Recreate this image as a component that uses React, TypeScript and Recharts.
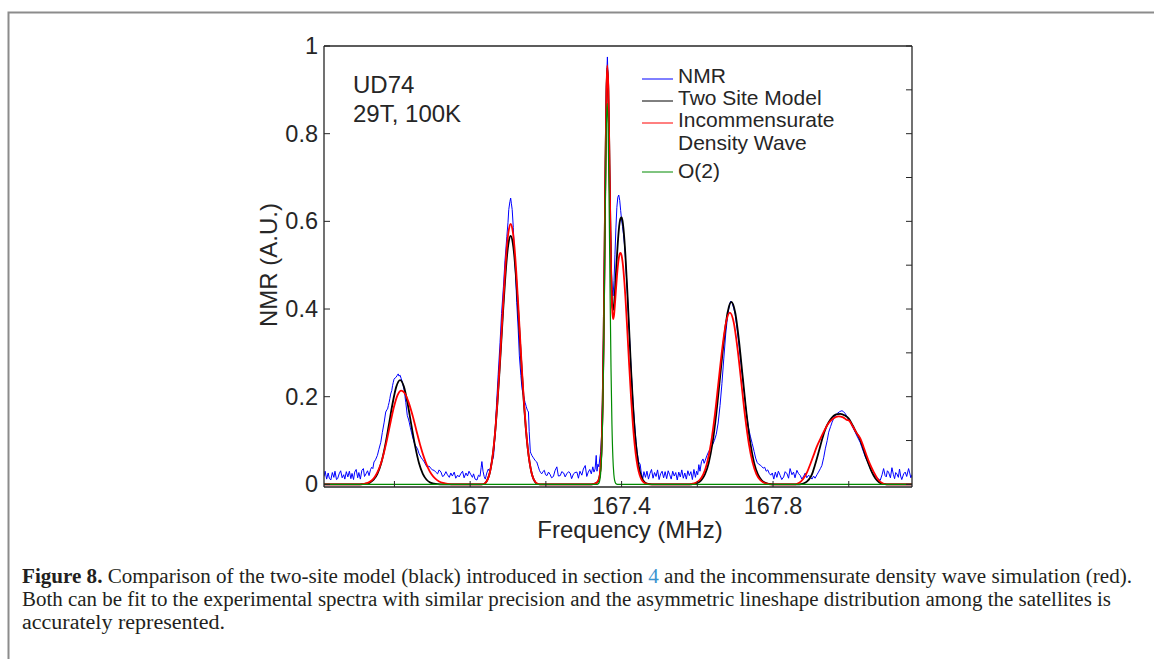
import React from 'react';
import { LineChart, Line, XAxis, YAxis } from 'recharts';

// [frequency (MHz), normalised intensity]
type Pair = [number, number];

const nmrTrace: Pair[] = [
  [166.614, 0.018], [166.617, 0.03], [166.621, 0.012], [166.625, 0.026], [166.628, 0.014], [166.632, 0.01],
  [166.636, 0.027], [166.64, 0.016], [166.643, 0.03], [166.647, 0.011], [166.65, 0.013], [166.654, 0.024],
  [166.658, 0.031], [166.662, 0.015], [166.666, 0.022], [166.669, 0.012], [166.673, 0.029], [166.677, 0.017],
  [166.681, 0.03], [166.685, 0.013], [166.688, 0.025], [166.692, 0.011], [166.695, 0.028], [166.699, 0.034],
  [166.703, 0.015], [166.706, 0.027], [166.71, 0.012], [166.714, 0.032], [166.718, 0.036], [166.721, 0.018],
  [166.725, 0.024], [166.729, 0.031], [166.733, 0.02], [166.737, 0.034], [166.74, 0.039], [166.743, 0.036],
  [166.746, 0.051], [166.75, 0.056], [166.755, 0.066], [166.759, 0.08], [166.764, 0.096], [166.768, 0.118],
  [166.773, 0.142], [166.777, 0.165], [166.78, 0.17], [166.782, 0.172], [166.784, 0.18], [166.786, 0.187],
  [166.788, 0.196], [166.79, 0.206], [166.793, 0.214], [166.795, 0.225], [166.797, 0.233], [166.799, 0.24],
  [166.802, 0.243], [166.804, 0.244], [166.807, 0.248], [166.81, 0.252], [166.812, 0.247], [166.815, 0.249],
  [166.818, 0.241], [166.821, 0.233], [166.824, 0.222], [166.826, 0.214], [166.828, 0.2], [166.83, 0.187],
  [166.832, 0.172], [166.834, 0.157], [166.837, 0.149], [166.839, 0.142], [166.842, 0.13], [166.845, 0.119],
  [166.848, 0.108], [166.852, 0.096], [166.856, 0.088], [166.861, 0.081], [166.865, 0.07], [166.87, 0.062],
  [166.874, 0.057], [166.879, 0.051], [166.883, 0.044], [166.887, 0.039], [166.891, 0.042], [166.896, 0.037],
  [166.9, 0.033], [166.905, 0.032], [166.909, 0.028], [166.914, 0.024], [166.918, 0.033], [166.923, 0.028],
  [166.927, 0.018], [166.931, 0.02], [166.936, 0.029], [166.94, 0.022], [166.945, 0.016], [166.949, 0.026],
  [166.953, 0.019], [166.958, 0.028], [166.962, 0.014], [166.967, 0.021], [166.971, 0.017], [166.975, 0.024],
  [166.98, 0.03], [166.984, 0.015], [166.989, 0.026], [166.993, 0.019], [166.997, 0.03], [167.002, 0.022],
  [167.006, 0.016], [167.009, 0.024], [167.013, 0.012], [167.018, 0.01], [167.022, 0.021], [167.026, 0.018],
  [167.029, 0.038], [167.031, 0.052], [167.034, 0.03], [167.037, 0.018], [167.04, 0.012], [167.044, 0.026],
  [167.048, 0.035], [167.052, 0.028], [167.055, 0.044], [167.057, 0.05], [167.06, 0.058], [167.062, 0.066],
  [167.066, 0.118], [167.07, 0.187], [167.074, 0.25], [167.079, 0.324], [167.083, 0.39], [167.088, 0.452],
  [167.092, 0.51], [167.097, 0.566], [167.1, 0.598], [167.102, 0.627], [167.105, 0.645], [167.107, 0.653],
  [167.109, 0.64], [167.111, 0.627], [167.114, 0.586], [167.116, 0.543], [167.12, 0.478], [167.123, 0.415],
  [167.127, 0.352], [167.13, 0.293], [167.134, 0.248], [167.137, 0.218], [167.139, 0.21], [167.141, 0.202],
  [167.143, 0.194], [167.145, 0.187], [167.148, 0.178], [167.15, 0.172], [167.152, 0.168], [167.154, 0.165],
  [167.156, 0.12], [167.159, 0.074], [167.161, 0.07], [167.163, 0.066], [167.166, 0.062], [167.169, 0.058],
  [167.172, 0.054], [167.176, 0.051], [167.18, 0.04], [167.183, 0.032], [167.186, 0.027], [167.189, 0.024],
  [167.192, 0.029], [167.196, 0.032], [167.199, 0.022], [167.203, 0.02], [167.207, 0.028], [167.211, 0.023],
  [167.215, 0.015], [167.22, 0.018], [167.224, 0.031], [167.229, 0.04], [167.233, 0.019], [167.238, 0.02],
  [167.242, 0.029], [167.247, 0.026], [167.251, 0.017], [167.255, 0.024], [167.26, 0.029], [167.264, 0.026],
  [167.268, 0.013], [167.273, 0.024], [167.277, 0.027], [167.282, 0.028], [167.286, 0.014], [167.29, 0.03],
  [167.295, 0.021], [167.299, 0.035], [167.304, 0.043], [167.308, 0.018], [167.312, 0.028], [167.316, 0.034],
  [167.32, 0.024], [167.324, 0.04], [167.327, 0.028], [167.33, 0.035], [167.333, 0.066], [167.335, 0.03],
  [167.3375, 0.046], [167.34, 0.04], [167.3425, 0.06], [167.345, 0.075], [167.3475, 0.118], [167.35, 0.205],
  [167.3525, 0.355], [167.355, 0.545], [167.3575, 0.755], [167.36, 0.915], [167.3625, 0.975], [167.365, 0.905],
  [167.3675, 0.765], [167.37, 0.61], [167.3725, 0.5], [167.375, 0.445], [167.3775, 0.43], [167.38, 0.465],
  [167.3825, 0.525], [167.385, 0.585], [167.3875, 0.632], [167.39, 0.655], [167.3925, 0.66], [167.395, 0.648],
  [167.3975, 0.625], [167.4, 0.603], [167.4025, 0.588], [167.405, 0.57], [167.4075, 0.548], [167.41, 0.518],
  [167.415, 0.44], [167.42, 0.352], [167.425, 0.265], [167.43, 0.188], [167.435, 0.13], [167.438, 0.098],
  [167.441, 0.074], [167.445, 0.051], [167.449, 0.046], [167.452, 0.026], [167.456, 0.013], [167.459, 0.029],
  [167.463, 0.016], [167.467, 0.03], [167.471, 0.012], [167.475, 0.025], [167.479, 0.034], [167.483, 0.014],
  [167.487, 0.027], [167.491, 0.018], [167.495, 0.033], [167.499, 0.011], [167.503, 0.024], [167.507, 0.03],
  [167.511, 0.015], [167.515, 0.029], [167.519, 0.013], [167.523, 0.031], [167.527, 0.022], [167.531, 0.012],
  [167.535, 0.03], [167.539, 0.019], [167.543, 0.027], [167.547, 0.01], [167.551, 0.028], [167.555, 0.017],
  [167.559, 0.033], [167.563, 0.014], [167.567, 0.026], [167.571, 0.012], [167.575, 0.031], [167.579, 0.02],
  [167.583, 0.029], [167.587, 0.011], [167.591, 0.034], [167.595, 0.016], [167.598, 0.03], [167.601, 0.022],
  [167.604, 0.045], [167.607, 0.03], [167.611, 0.052], [167.615, 0.058], [167.618, 0.048], [167.621, 0.055],
  [167.625, 0.065], [167.63, 0.075], [167.635, 0.082], [167.64, 0.09], [167.645, 0.1], [167.65, 0.114],
  [167.655, 0.14], [167.66, 0.18], [167.665, 0.23], [167.67, 0.288], [167.675, 0.343], [167.68, 0.385],
  [167.685, 0.41], [167.688, 0.418], [167.692, 0.414], [167.696, 0.402], [167.7, 0.388], [167.705, 0.355],
  [167.71, 0.318], [167.715, 0.278], [167.72, 0.238], [167.725, 0.198], [167.73, 0.16], [167.735, 0.13],
  [167.74, 0.11], [167.745, 0.093], [167.75, 0.075], [167.754, 0.06], [167.758, 0.05], [167.762, 0.046],
  [167.766, 0.044], [167.77, 0.041], [167.774, 0.037], [167.778, 0.039], [167.782, 0.03], [167.786, 0.033],
  [167.79, 0.025], [167.794, 0.021], [167.798, 0.026], [167.802, 0.012], [167.806, 0.028], [167.81, 0.016],
  [167.814, 0.03], [167.819, 0.02], [167.823, 0.011], [167.828, 0.017], [167.832, 0.029], [167.837, 0.024],
  [167.841, 0.014], [167.845, 0.036], [167.85, 0.022], [167.854, 0.028], [167.858, 0.015], [167.863, 0.032],
  [167.867, 0.025], [167.872, 0.02], [167.876, 0.012], [167.881, 0.019], [167.885, 0.026], [167.889, 0.015],
  [167.894, 0.021], [167.898, 0.017], [167.903, 0.012], [167.907, 0.019], [167.911, 0.014], [167.916, 0.022],
  [167.92, 0.028], [167.925, 0.036], [167.929, 0.043], [167.934, 0.062], [167.938, 0.081], [167.943, 0.1],
  [167.947, 0.119], [167.952, 0.132], [167.956, 0.142], [167.96, 0.15], [167.964, 0.157], [167.97, 0.162],
  [167.976, 0.166], [167.982, 0.168], [167.986, 0.166], [167.991, 0.161], [167.997, 0.152], [168.004, 0.142],
  [168.01, 0.131], [168.017, 0.119], [168.023, 0.108], [168.03, 0.096], [168.034, 0.086], [168.039, 0.074],
  [168.044, 0.062], [168.05, 0.051], [168.055, 0.04], [168.061, 0.028], [168.067, 0.021], [168.074, 0.015],
  [168.079, 0.012], [168.083, 0.009], [168.088, 0.022], [168.092, 0.036], [168.096, 0.02], [168.099, 0.017],
  [168.102, 0.031], [168.105, 0.028], [168.11, 0.015], [168.114, 0.038], [168.118, 0.022], [168.121, 0.013],
  [168.124, 0.027], [168.127, 0.024], [168.131, 0.016], [168.134, 0.035], [168.137, 0.019], [168.14, 0.011],
  [168.145, 0.024], [168.149, 0.028], [168.153, 0.018], [168.158, 0.036], [168.161, 0.026], [168.164, 0.015],
  [168.167, 0.022],
];

const twoSiteModel: Pair[] = [
  [166.614, 0], [166.705, 0], [166.715, 0.0005], [166.725, 0.0014], [166.735, 0.004], [166.745, 0.0105],
  [166.755, 0.024], [166.765, 0.048], [166.775, 0.086], [166.785, 0.134], [166.795, 0.184], [166.805, 0.223],
  [166.815, 0.238], [166.825, 0.223], [166.835, 0.184], [166.845, 0.134], [166.855, 0.086], [166.865, 0.048],
  [166.875, 0.024], [166.885, 0.0105], [166.895, 0.004], [166.905, 0.0014], [166.915, 0.0004], [166.925, 0],
  [167.03, 0], [167.037, 0.0015], [167.042, 0.005], [167.047, 0.013], [167.052, 0.027], [167.057, 0.05],
  [167.062, 0.083], [167.067, 0.128], [167.072, 0.185], [167.077, 0.251], [167.082, 0.322], [167.087, 0.395],
  [167.092, 0.462], [167.097, 0.518], [167.102, 0.554], [167.107, 0.567], [167.112, 0.554], [167.117, 0.518],
  [167.122, 0.462], [167.127, 0.395], [167.132, 0.322], [167.137, 0.251], [167.142, 0.185], [167.147, 0.128],
  [167.152, 0.083], [167.157, 0.05], [167.162, 0.027], [167.167, 0.013], [167.172, 0.005], [167.177, 0.0015],
  [167.184, 0], [167.32, 0], [167.33, 0.002], [167.335, 0.004], [167.34, 0.011], [167.3425, 0.021],
  [167.345, 0.043], [167.3475, 0.092], [167.35, 0.183], [167.3525, 0.33], [167.355, 0.524], [167.3575, 0.732],
  [167.36, 0.892], [167.362, 0.95], [167.365, 0.899], [167.3675, 0.763], [167.37, 0.607], [167.3725, 0.482],
  [167.375, 0.411], [167.3775, 0.398], [167.38, 0.41], [167.3825, 0.44], [167.385, 0.479], [167.3875, 0.517],
  [167.39, 0.551], [167.3925, 0.579], [167.395, 0.598], [167.3975, 0.607], [167.4, 0.609], [167.4025, 0.601],
  [167.405, 0.583], [167.4075, 0.557], [167.41, 0.524], [167.415, 0.443], [167.42, 0.352], [167.425, 0.261],
  [167.43, 0.183], [167.435, 0.12], [167.44, 0.0747], [167.445, 0.0433], [167.45, 0.0236], [167.455, 0.0121],
  [167.46, 0.0058], [167.465, 0.0025], [167.47, 0.001], [167.48, 0],
  [167.58, 0], [167.59, 0.0011], [167.6, 0.0034], [167.61, 0.0093], [167.62, 0.0226], [167.63, 0.0489],
  [167.64, 0.094], [167.65, 0.161], [167.66, 0.244], [167.67, 0.328], [167.68, 0.392], [167.69, 0.416],
  [167.7, 0.392], [167.71, 0.328], [167.72, 0.244], [167.73, 0.161], [167.74, 0.094], [167.75, 0.0489],
  [167.76, 0.0226], [167.77, 0.0093], [167.78, 0.0034], [167.79, 0.0011], [167.8, 0],
  [167.87, 0], [167.88, 0.002], [167.89, 0.007], [167.9, 0.018], [167.905, 0.028], [167.91, 0.042],
  [167.918, 0.066], [167.925, 0.088], [167.93, 0.104], [167.94, 0.13], [167.947, 0.142], [167.955, 0.152],
  [167.965, 0.159], [167.978, 0.161], [167.99, 0.157], [168.0, 0.15], [168.01, 0.135], [168.02, 0.118],
  [168.029, 0.104], [168.037, 0.085], [168.044, 0.066], [168.052, 0.047], [168.061, 0.028], [168.07, 0.014],
  [168.08, 0.005], [168.09, 0.001], [168.1, 0], [168.167, 0],
];

const densityWaveModel: Pair[] = [
  [166.614, 0], [166.71, 0], [166.718, 0.001], [166.728, 0.003], [166.738, 0.0077], [166.748, 0.017],
  [166.758, 0.033], [166.768, 0.058], [166.778, 0.093], [166.788, 0.134], [166.798, 0.174], [166.808, 0.203],
  [166.818, 0.214], [166.828, 0.207], [166.838, 0.186], [166.848, 0.157], [166.858, 0.123], [166.868, 0.09],
  [166.878, 0.0615], [166.888, 0.039], [166.898, 0.023], [166.908, 0.013], [166.918, 0.0067], [166.928, 0.0032],
  [166.938, 0.0014], [166.95, 0],
  [167.03, 0], [167.037, 0.0015], [167.042, 0.005], [167.047, 0.013], [167.052, 0.027], [167.057, 0.05],
  [167.062, 0.084], [167.067, 0.13], [167.072, 0.189], [167.077, 0.258], [167.082, 0.333], [167.087, 0.41],
  [167.092, 0.482], [167.097, 0.542], [167.102, 0.58], [167.107, 0.594], [167.112, 0.58], [167.117, 0.542],
  [167.122, 0.482], [167.127, 0.41], [167.132, 0.333], [167.137, 0.258], [167.142, 0.189], [167.147, 0.13],
  [167.152, 0.084], [167.157, 0.05], [167.162, 0.027], [167.167, 0.013], [167.172, 0.006], [167.177, 0.002],
  [167.185, 0], [167.32, 0], [167.33, 0.002], [167.335, 0.0045], [167.34, 0.012], [167.3425, 0.022],
  [167.345, 0.046], [167.3475, 0.0945], [167.35, 0.187], [167.3525, 0.334], [167.355, 0.529], [167.3575, 0.738],
  [167.36, 0.898], [167.362, 0.956], [167.365, 0.904], [167.3675, 0.766], [167.37, 0.607], [167.3725, 0.477],
  [167.375, 0.402], [167.3775, 0.377], [167.38, 0.386], [167.3825, 0.412], [167.385, 0.443], [167.3875, 0.472],
  [167.39, 0.497], [167.3925, 0.515], [167.395, 0.526], [167.3975, 0.528], [167.4, 0.522], [167.4025, 0.508],
  [167.405, 0.487], [167.4075, 0.46], [167.41, 0.428], [167.415, 0.352], [167.42, 0.272], [167.425, 0.198],
  [167.43, 0.135], [167.435, 0.0867], [167.44, 0.0523], [167.445, 0.0296], [167.45, 0.0158], [167.455, 0.0079],
  [167.46, 0.0037], [167.465, 0.0016], [167.47, 0.0006], [167.48, 0],
  [167.575, 0], [167.586, 0.0012], [167.596, 0.0037], [167.606, 0.0099], [167.616, 0.0234], [167.626, 0.0496],
  [167.636, 0.0932], [167.646, 0.156], [167.656, 0.234], [167.666, 0.311], [167.676, 0.37], [167.686, 0.392],
  [167.696, 0.37], [167.706, 0.311], [167.716, 0.234], [167.726, 0.156], [167.736, 0.0932], [167.746, 0.0496],
  [167.756, 0.0234], [167.766, 0.0099], [167.776, 0.0037], [167.786, 0.0012], [167.796, 0],
  [167.86, 0], [167.868, 0.003], [167.88, 0.013], [167.89, 0.028], [167.9, 0.05], [167.907, 0.066],
  [167.915, 0.085], [167.925, 0.104], [167.935, 0.122], [167.947, 0.14], [167.96, 0.151], [167.973, 0.155],
  [167.985, 0.153], [167.995, 0.147], [168.0, 0.146], [168.01, 0.133], [168.02, 0.118], [168.031, 0.104],
  [168.04, 0.083], [168.047, 0.066], [168.056, 0.046], [168.066, 0.028], [168.076, 0.013], [168.088, 0.003],
  [168.1, 0], [168.167, 0],
];

const o2Line: Pair[] = [
  [166.614, 0], [167.33, 0], [167.3345, 0], [167.337, 0.0006], [167.3395, 0.0022], [167.342, 0.0077],
  [167.3445, 0.0232], [167.347, 0.0606], [167.3495, 0.137], [167.352, 0.266], [167.3545, 0.447], [167.357, 0.646],
  [167.3595, 0.807], [167.362, 0.869], [167.3645, 0.807], [167.367, 0.646], [167.3695, 0.447], [167.372, 0.266],
  [167.3745, 0.137], [167.377, 0.0606], [167.3795, 0.0232], [167.382, 0.0077], [167.3845, 0.0022], [167.387, 0.0006],
  [167.3895, 0], [168.167, 0],
];

const freqDomain: [number, number] = [166.614, 168.167];
const nmrDomain: [number, number] = [-0.006, 1];
const freqTicks = [166.8, 167, 167.2, 167.4, 167.6, 167.8, 168];
const freqLabels = [167, 167.4, 167.8];
const nmrTicks = [0, 0.2, 0.4, 0.6, 0.8, 1];
const nmrMinorTicks = [0, 0.1, 0.2, 0.3, 0.4, 0.5, 0.6, 0.7, 0.8, 0.9, 1];

const SERIES = [
  { key: 'nmr', legend: ['NMR'], color: '#0000ff', width: 1, curve: 'linear', data: nmrTrace },
  { key: 'twoSite', legend: ['Two Site Model'], color: '#000000', width: 1.8, curve: 'monotone', data: twoSiteModel },
  { key: 'icdw', legend: ['Incommensurate', 'Density Wave'], color: '#ff0000', width: 1.8, curve: 'monotone', data: densityWaveModel },
  { key: 'o2', legend: ['O(2)'], color: '#008a00', width: 1.2, curve: 'monotone', data: o2Line },
] as const;

const SANS = "'Liberation Sans', Arial, sans-serif";
const SERIF = "'Liberation Serif', 'Times New Roman', serif";
const AXIS = '#262626';

const toPoints = (pairs: readonly Pair[]) => pairs.map(([f, v]) => ({ f, v }));

const BlankTick = () => <g />;

const FreqTick = ({ x, y, payload }: any) =>
  freqLabels.includes(payload.value) ? (
    <text x={x} y={y + 33} textAnchor="middle" fontFamily={SANS} fontSize={23.5} fill={AXIS}>
      {payload.value}
    </text>
  ) : (
    <g />
  );

const NmrTick = ({ x, y, payload }: any) => (
  <text x={x - 12} y={y + 8} textAnchor="end" fontFamily={SANS} fontSize={23.5} fill={AXIS}>
    {payload.value}
  </text>
);

const axisLine = { stroke: AXIS, strokeWidth: 1.3 };
const tickLine = { stroke: AXIS, strokeWidth: 1 };

// legend rows: line y, text baselines
const legendRows = [
  { lineY: 79, textY: [83] },
  { lineY: 101, textY: [105] },
  { lineY: 123, textY: [127, 150] },
  { lineY: 172, textY: [178] },
];

export default function App() {
  return (
    <div style={{ position: 'absolute', left: 0, top: 0, width: 1154, height: 659, background: '#fff' }}>
      <LineChart width={1154} height={659} margin={{ top: 45, right: 241, bottom: 112, left: 254 }}>
        <XAxis
          dataKey="f"
          type="number"
          domain={freqDomain}
          allowDataOverflow
          ticks={freqTicks}
          interval={0}
          height={60}
          tickSize={-6}
          tickMargin={0}
          axisLine={axisLine}
          tickLine={tickLine}
          tick={FreqTick}
        />
        <XAxis
          xAxisId="top"
          orientation="top"
          type="number"
          domain={freqDomain}
          allowDataOverflow
          ticks={freqTicks}
          interval={0}
          height={1}
          tickSize={-6}
          axisLine={axisLine}
          tickLine={tickLine}
          tick={BlankTick}
        />
        <YAxis
          type="number"
          domain={nmrDomain}
          allowDataOverflow
          ticks={nmrTicks}
          interval={0}
          width={70}
          tickSize={-6}
          tickMargin={0}
          axisLine={axisLine}
          tickLine={tickLine}
          tick={NmrTick}
        />
        <YAxis
          yAxisId="right"
          orientation="right"
          type="number"
          domain={nmrDomain}
          allowDataOverflow
          ticks={nmrMinorTicks}
          interval={0}
          width={1}
          tickSize={-6}
          axisLine={axisLine}
          tickLine={tickLine}
          tick={BlankTick}
        />
        {SERIES.map(s => (
          <Line
            key={s.key}
            data={toPoints(s.data)}
            dataKey="v"
            type={s.curve}
            stroke={s.color}
            strokeWidth={s.width}
            dot={false}
            activeDot={false}
            isAnimationActive={false}
          />
        ))}
      </LineChart>

      <svg
        width={1154}
        height={659}
        style={{ position: 'absolute', left: 0, top: 0, pointerEvents: 'none' }}
      >
        {/* page frame */}
        <path d="M8.5 659 V12.5 H1154" fill="none" stroke="#8c8c8c" strokeWidth={2} />

        {/* sample annotation */}
        <text x={353} y={93} fontFamily={SANS} fontSize={24} fill={AXIS}>UD74</text>
        <text x={353} y={122} fontFamily={SANS} fontSize={24} fill={AXIS}>29T, 100K</text>

        {/* legend */}
        {SERIES.map((s, i) => (
          <g key={s.key}>
            <line x1={642} x2={673} y1={legendRows[i].lineY} y2={legendRows[i].lineY} stroke={s.color} strokeWidth={1} />
            {s.legend.map((t, j) => (
              <text key={t} x={678} y={legendRows[i].textY[j]} fontFamily={SANS} fontSize={21} fill={AXIS}>
                {t}
              </text>
            ))}
          </g>
        ))}

        {/* axis titles */}
        <text x={630} y={538} textAnchor="middle" fontFamily={SANS} fontSize={24} fill={AXIS}>
          Frequency (MHz)
        </text>
        <text
          transform="translate(277,265) rotate(-90)"
          textAnchor="middle"
          fontFamily={SANS}
          fontSize={24}
          fill={AXIS}
        >
          NMR (A.U.)
        </text>

        {/* caption */}
        <text x={22} y={583} fontFamily={SERIF} fontSize={20} fill="#231f20" textLength={1110} lengthAdjust="spacingAndGlyphs">
          <tspan fontWeight="bold">Figure 8.</tspan>
          {' Comparison of the two-site model (black) introduced in section '}
          <tspan fill="#3a93cf">4</tspan>
          {' and the incommensurate density wave simulation (red).'}
        </text>
        <text x={22} y={606} fontFamily={SERIF} fontSize={20} fill="#231f20" textLength={1089} lengthAdjust="spacingAndGlyphs">
          Both can be fit to the experimental spectra with similar precision and the asymmetric lineshape distribution among the satellites is
        </text>
        <text x={22} y={629} fontFamily={SERIF} fontSize={20} fill="#231f20" textLength={203} lengthAdjust="spacingAndGlyphs">
          accurately represented.
        </text>
      </svg>
    </div>
  );
}
